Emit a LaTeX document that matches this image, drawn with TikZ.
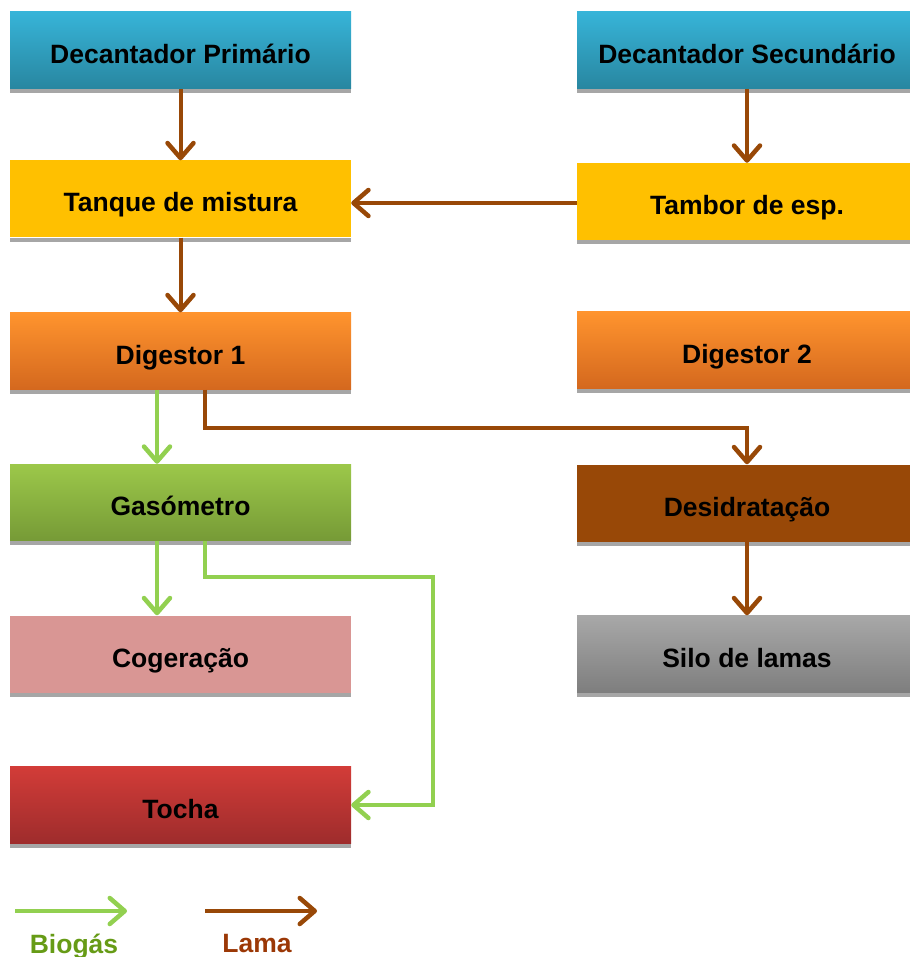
\documentclass[tikz,border=0pt]{standalone}
\usepackage{fontspec}
\setmainfont{Liberation Sans}
\usetikzlibrary{arrows.meta}

\definecolor{azulTopo}{RGB}{55,180,216}
\definecolor{azulBase}{RGB}{40,134,160}
\definecolor{amarelo}{RGB}{255,192,0}
\definecolor{laranjaTopo}{RGB}{255,148,46}
\definecolor{laranjaBase}{RGB}{212,104,30}
\definecolor{verdeTopo}{RGB}{156,200,74}
\definecolor{verdeBase}{RGB}{118,154,54}
\definecolor{castanho}{RGB}{152,72,7}
\definecolor{rosa}{RGB}{217,150,148}
\definecolor{vermelhoTopo}{RGB}{210,60,56}
\definecolor{vermelhoBase}{RGB}{158,44,44}
\definecolor{cinzaTopo}{RGB}{168,168,168}
\definecolor{cinzaBase}{RGB}{126,126,126}
\definecolor{cinzaSombra}{RGB}{166,166,166}
\definecolor{verdeSeta}{RGB}{146,208,80}
\definecolor{verdeTexto}{RGB}{102,155,22}
\definecolor{castanhoTexto}{RGB}{155,56,6}

\tikzset{
  etapa/.style={minimum height=77pt, inner sep=0pt, text height=26pt, text depth=0pt,
    font=\fontsize{26.5}{30}\selectfont\bfseries},
  esq/.style={etapa, minimum width=341pt},
  dir/.style={etapa, minimum width=340pt},
  sombra/.style={fill=cinzaSombra},
  ponta/.tip={Straight Barb[length=15pt, width=26pt, line width=4.5pt, round]},
  lama/.style={draw=castanho, line width=4pt, -ponta},
  biogas/.style={draw=verdeSeta, line width=4pt, -ponta},
  legenda/.style={font=\fontsize{26.5}{30}\selectfont\bfseries, inner sep=0pt, anchor=base}
}

\begin{document}
\begin{tikzpicture}[x=1pt, y=-1pt]
  \useasboundingbox (0,0) rectangle (909,957);

  % Etapas (coluna esquerda)
  \node[esq, top color=azulTopo, bottom color=azulBase] (decP) at (180.5,50.5) {Decantador Primário};
  \node[esq, fill=amarelo] (tanque) at (180.5,199) {Tanque de mistura};
  \node[esq, top color=laranjaTopo, bottom color=laranjaBase] (dig1) at (180.5,351) {Digestor 1};
  \node[esq, top color=verdeTopo, bottom color=verdeBase] (gaso) at (180.5,502.5) {Gasómetro};
  \node[esq, fill=rosa] (coger) at (180.5,654) {Cogeração};
  \node[esq, top color=vermelhoTopo, bottom color=vermelhoBase] (tocha) at (180.5,805) {Tocha};

  % Etapas (coluna direita)
  \node[dir, top color=azulTopo, bottom color=azulBase] (decS) at (747,50.5) {Decantador Secundário};
  \node[dir, fill=amarelo] (tambor) at (747,201.5) {Tambor de esp.};
  \node[dir, top color=laranjaTopo, bottom color=laranjaBase] (dig2) at (747,350) {Digestor 2};
  \node[dir, fill=castanho] (desid) at (747,503) {Desidratação};
  \node[dir, top color=cinzaTopo, bottom color=cinzaBase] (silo) at (747,654) {Silo de lamas};

  % Sombras por baixo das caixas
  \foreach \n in {decP,tanque,dig1,gaso,coger,tocha,decS,tambor,dig2,desid,silo}
    \fill[sombra] (\n.south west) rectangle ([yshift=-4pt]\n.south east);

  % Linha de lamas
  \coordinate (tamborEsq) at ([yshift=-1.5pt]tambor.west);
  \draw[lama] (decP) -- (tanque);
  \draw[lama] (decS) -- (tambor);
  \draw[lama] (tamborEsq) -- (tanque.east |- tamborEsq);
  \draw[lama] (tanque) -- (dig1);
  \draw[lama] ([xshift=24.5pt]dig1.south) -- ++(0,38) -| (desid.north);
  \draw[lama] (desid) -- (silo);

  % Linha de biogas
  \draw[biogas] ([xshift=-23.5pt]dig1.south) -- ([xshift=-23.5pt]gaso.north);
  \draw[biogas] ([xshift=-23.5pt]gaso.south) -- ([xshift=-23.5pt]coger.north);
  \draw[biogas] ([xshift=24.5pt]gaso.south) -- ++(0,36) -- ++(228,0) |- (tocha.east);

  % Legenda
  \coordinate (bioIni) at (15,911);
  \coordinate (bioFim) at (127,911);
  \coordinate (lamaIni) at (205,911);
  \coordinate (lamaFim) at (317,911);
  \draw[biogas] (bioIni) -- (bioFim);
  \draw[lama] (lamaIni) -- (lamaFim);
  \node[legenda, text=verdeTexto] (bioTxt) at (74,953) {Biogás};
  \node[legenda, text=castanhoTexto] (lamaTxt) at (257,952) {Lama};
\end{tikzpicture}
\end{document}
